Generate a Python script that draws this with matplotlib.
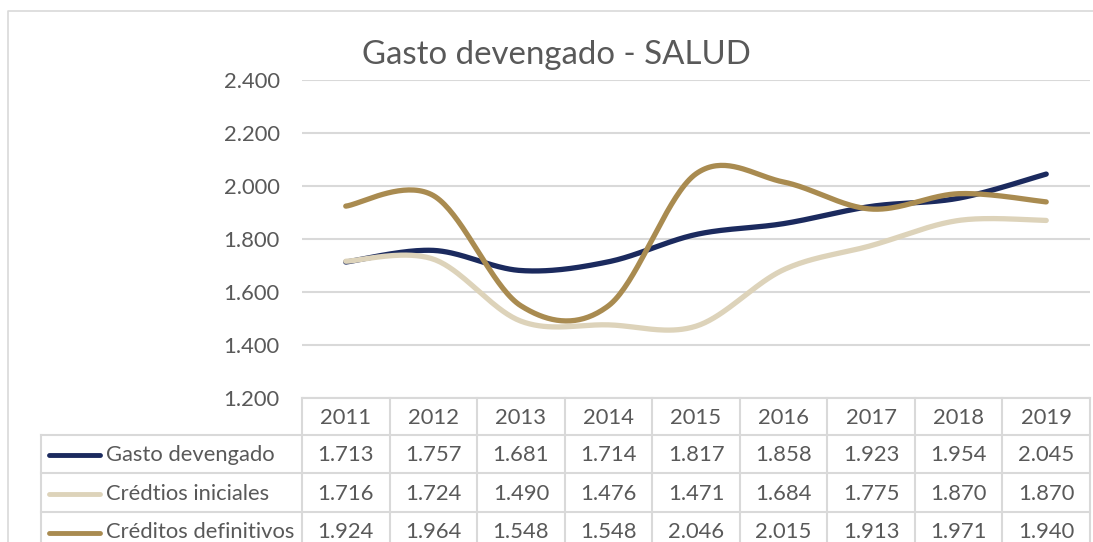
import numpy as np
import matplotlib
matplotlib.use("Agg")
import matplotlib.pyplot as plt

# Datos
anios = ["2011", "2012", "2013", "2014", "2015", "2016", "2017", "2018", "2019"]
gasto_devengado = [1713, 1757, 1681, 1714, 1817, 1858, 1923, 1954, 2045]
creditos_iniciales = [1716, 1724, 1490, 1476, 1471, 1684, 1775, 1870, 1870]
creditos_definitivos = [1924, 1964, 1548, 1548, 2046, 2015, 1913, 1971, 1940]

series = [
    ("Gasto devengado", gasto_devengado, "#1B2A5E"),
    ("Crédtios iniciales", creditos_iniciales, "#DDD3BA"),
    ("Créditos definitivos", creditos_definitivos, "#A98B50"),
]
yticks = [1200, 1400, 1600, 1800, 2000, 2200, 2400]

FUENTE = "Lato"
GRIS_TXT = "#595959"
GRIS_LIN = "#D9D9D9"
TAM = 15.8
W, H = 1093, 542


def suavizar(y, n=40):
    # curva tipo Excel (Catmull-Rom / Bezier)
    y = np.asarray(y, dtype=float)
    x = np.arange(len(y), dtype=float)
    px = np.concatenate([[x[0]], x, [x[-1]]])
    py = np.concatenate([[y[0]], y, [y[-1]]])
    xs, ys = [], []
    t = np.linspace(0, 1, n)
    for i in range(1, len(px) - 2):
        p0, p1, p2, p3 = (np.array([px[j], py[j]]) for j in range(i - 1, i + 3))
        c1 = p1 + (p2 - p0) / 6
        c2 = p2 - (p3 - p1) / 6
        pts = ((1 - t) ** 3)[:, None] * p1 + (3 * (1 - t) ** 2 * t)[:, None] * c1 \
            + (3 * (1 - t) * t ** 2)[:, None] * c2 + (t ** 3)[:, None] * p2
        xs.extend(pts[:, 0]); ys.extend(pts[:, 1])
    return np.array(xs), np.array(ys)


fig = plt.figure(figsize=(W / 100, H / 100), dpi=100)

# capa de fondo en pixeles para tabla y marco
bg = fig.add_axes([0, 0, 1, 1], zorder=0)
bg.set_xlim(0, W)
bg.set_ylim(H, 0)
bg.axis("off")

# marco exterior
bg.plot([8, 8, W + 5], [H + 5, 11, 11], color=GRIS_LIN, lw=1.2)

# area de grafico
x0, x1 = 302, 1090
y_top, y_bot = 80, 398
ax = fig.add_axes([x0 / W, 1 - y_bot / H, (x1 - x0) / W, (y_bot - y_top) / H], zorder=2)
ax.patch.set_alpha(0)
ax.set_xlim(-0.5, len(anios) - 0.5)
ax.set_ylim(1200, 2400)
for s in ax.spines.values():
    s.set_visible(False)
ax.set_xticks([])
ax.set_yticks(yticks)
ax.set_yticklabels([f"{v / 1000:.3f}" for v in yticks], fontsize=TAM,
                   color=GRIS_TXT, family=FUENTE)
ax.tick_params(axis="y", length=0, pad=16)
ax.grid(axis="y", color=GRIS_LIN, lw=1.5)
ax.set_axisbelow(True)

for nombre, vals, color in series:
    xs, ys = suavizar(vals)
    ax.plot(xs, ys, color=color, lw=3.8, solid_capstyle="round")

fig.text((362 + 750) / 2 / W, 1 - 55 / H, "Gasto devengado - SALUD",
         ha="center", va="center", fontsize=23.8, color=GRIS_TXT, family=FUENTE)

# tabla de datos
col_w = (x1 - x0) / len(anios)
filas = [398, 435, 473, 512, 551]
tx_l = 41
# lineas horizontales
bg.plot([x0, x1], [filas[0], filas[0]], color=GRIS_LIN, lw=1.5)
for yy in filas[1:]:
    bg.plot([tx_l, x1], [yy, yy], color=GRIS_LIN, lw=1.5)
# lineas verticales
for i in range(len(anios) + 1):
    xx = x0 + i * col_w
    bg.plot([xx, xx], [filas[0], H + 5], color=GRIS_LIN, lw=1.5)
bg.plot([tx_l, tx_l], [filas[1], H + 5], color=GRIS_LIN, lw=1.5)

for i, a in enumerate(anios):
    bg.text(x0 + (i + 0.5) * col_w, (filas[0] + filas[1]) / 2 + 1, a,
            ha="center", va="center", fontsize=TAM, color=GRIS_TXT, family=FUENTE)

for r, (nombre, vals, color) in enumerate(series):
    yc = (filas[r + 1] + filas[r + 2]) / 2 + 1
    bg.plot([49, 100], [yc, yc], color=color, lw=3.5, solid_capstyle="round")
    bg.text(106, yc, nombre, ha="left", va="center", fontsize=TAM,
            color=GRIS_TXT, family=FUENTE)
    for i, v in enumerate(vals):
        bg.text(x0 + (i + 0.5) * col_w, yc, f"{v / 1000:.3f}",
                ha="center", va="center", fontsize=TAM, color=GRIS_TXT, family=FUENTE)

fig.savefig("out.png", dpi=100)
